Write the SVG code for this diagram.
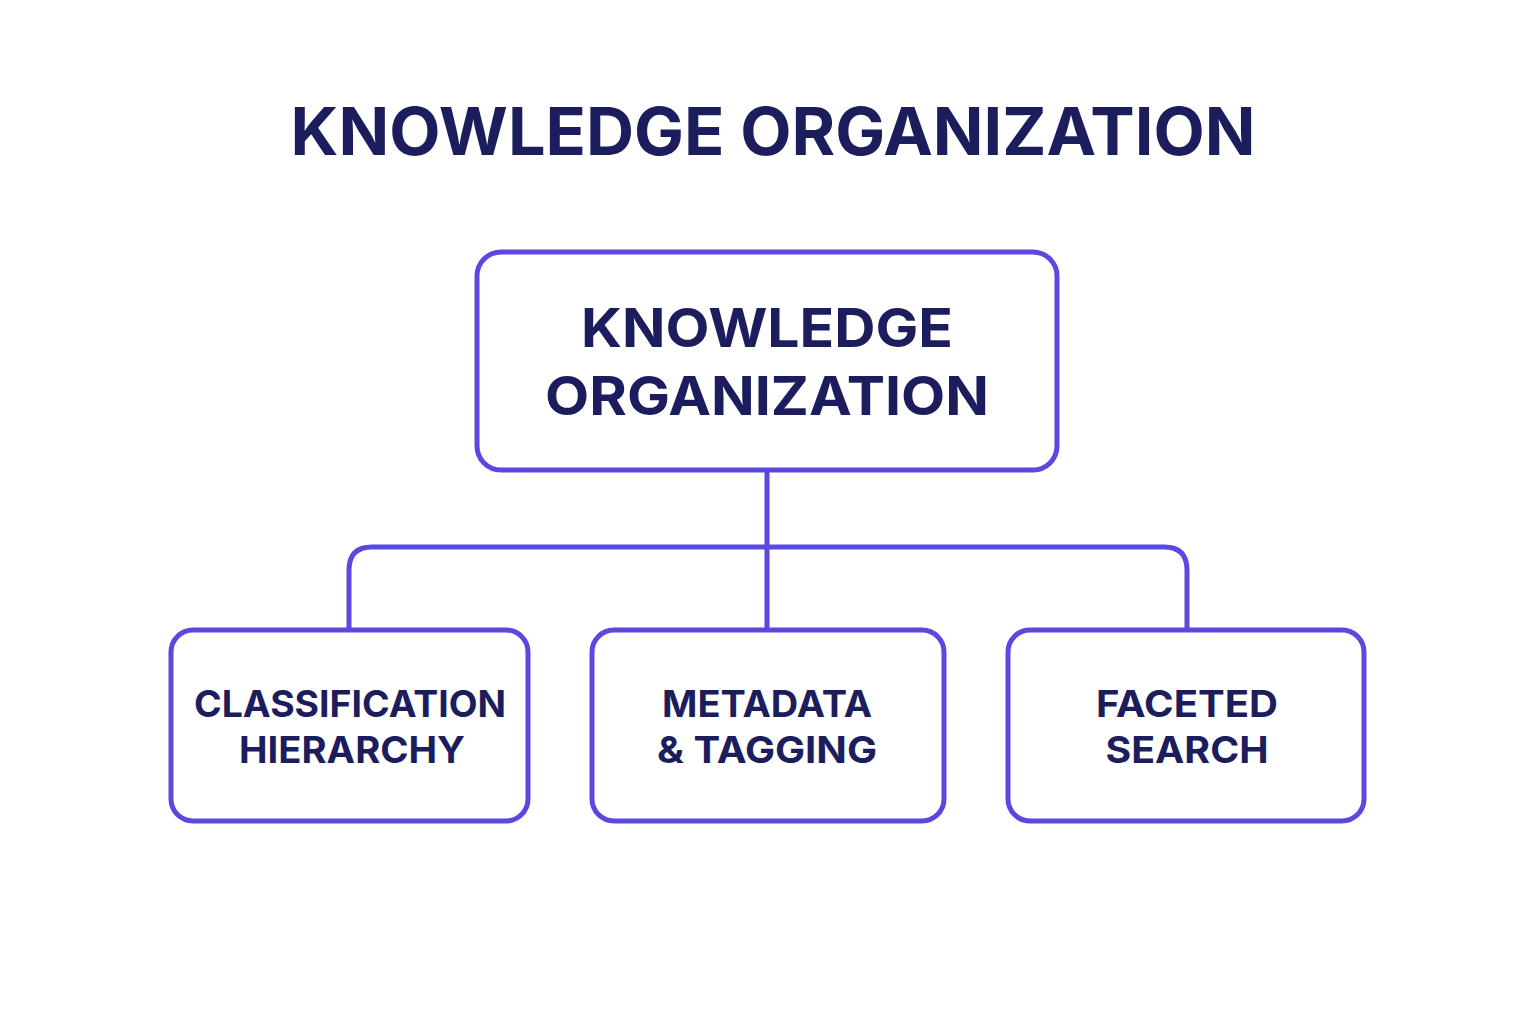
<svg xmlns="http://www.w3.org/2000/svg" width="1536" height="1024" viewBox="0 0 1536 1024">
<style>
.t{font-family:Inter,"Liberation Sans",sans-serif;font-weight:700;fill:#1c1d5c;text-anchor:middle}
.b{fill:#fff;stroke:#5a48e0;stroke-width:5}
.c{fill:none;stroke:#5a48e0;stroke-width:5}
</style>
<rect width="1536" height="1024" fill="#fff"/>
<text class="t" x="773" y="155" font-size="66" textLength="965" lengthAdjust="spacingAndGlyphs">KNOWLEDGE ORGANIZATION</text>
<g id="connectors">
<path class="c" d="M767 470V628M767 547H372Q349 547 349 570V630M767 547H1164Q1187 547 1187 570V630"/>
</g>
<g id="root">
<rect class="b" x="477" y="252" width="580" height="218" rx="24"/>
<text class="t" x="767" y="347" font-size="54" textLength="372" lengthAdjust="spacingAndGlyphs">KNOWLEDGE</text>
<text class="t" x="767" y="415" font-size="54" textLength="444" lengthAdjust="spacingAndGlyphs">ORGANIZATION</text>
</g>
<g id="classification">
<rect class="b" x="171" y="630" width="357" height="191" rx="22"/>
<text class="t" x="350" y="717" font-size="37" textLength="312" lengthAdjust="spacingAndGlyphs">CLASSIFICATION</text>
<text class="t" x="352" y="763" font-size="37" textLength="226" lengthAdjust="spacingAndGlyphs">HIERARCHY</text>
</g>
<g id="metadata">
<rect class="b" x="592" y="630" width="352" height="191" rx="22"/>
<text class="t" x="767" y="717" font-size="37" textLength="210" lengthAdjust="spacingAndGlyphs">METADATA</text>
<text class="t" x="767" y="763" font-size="37" textLength="220" lengthAdjust="spacingAndGlyphs">&amp; TAGGING</text>
</g>
<g id="faceted">
<rect class="b" x="1008" y="630" width="356" height="191" rx="22"/>
<text class="t" x="1187" y="717" font-size="37" textLength="182" lengthAdjust="spacingAndGlyphs">FACETED</text>
<text class="t" x="1187" y="763" font-size="37" textLength="163" lengthAdjust="spacingAndGlyphs">SEARCH</text>
</g>
</svg>
